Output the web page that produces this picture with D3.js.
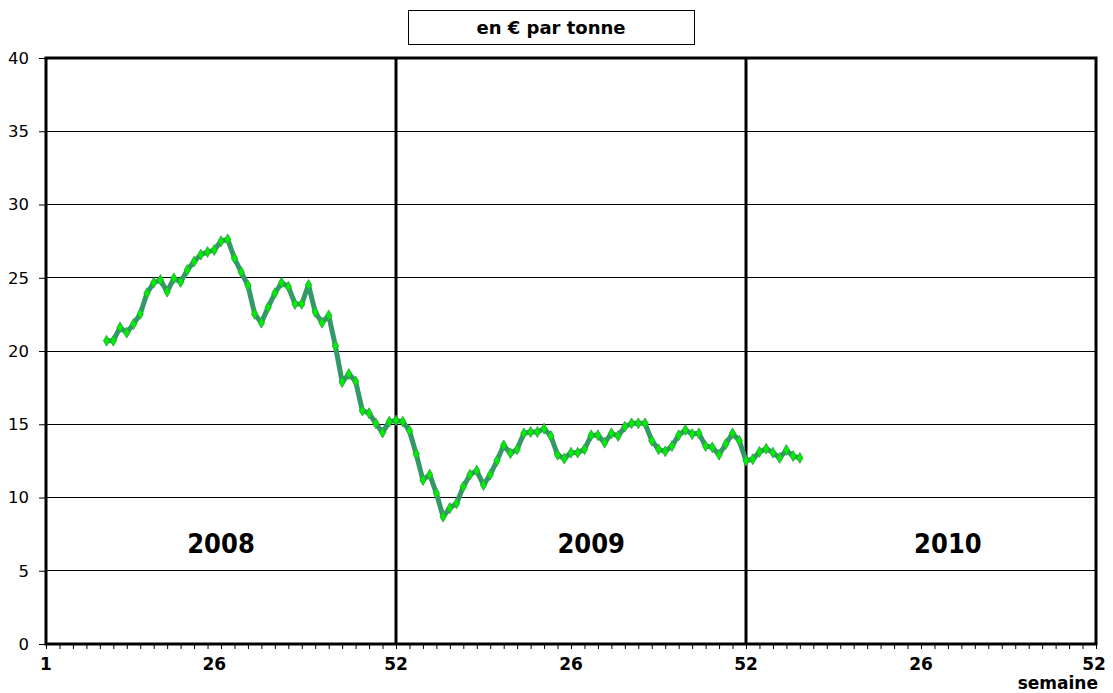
<!DOCTYPE html>
<html><head><meta charset="utf-8">
<script src="https://cdn.jsdelivr.net/npm/d3@7"></script>
<style>body{margin:0;background:#fff}svg{display:block}</style>
</head><body>
<svg id="c" width="1113" height="693"></svg>
<script>
// ---- data ----
const unitLabel = "en € par tonne";
const xAxisTitle = "semaine";
const years = ["2008", "2009", "2010"];
const weekTickLabels = ["1", "26", "52", "26", "52", "26", "52"];
const weekTickIndex = [0, 25, 52, 78, 104, 130, 156];
const yearBoundaryIndex = [52, 104];
const yearLabelIndex = [26, 81, 134];
const yTicks = [0, 5, 10, 15, 20, 25, 30, 35, 40];
const firstPointIndex = 9;
const prices = [
  20.70, 20.70, 21.61, 21.25, 21.84, 22.53, 23.94, 24.66, 24.85, 24.05,
  24.96, 24.71, 25.53, 26.10, 26.58, 26.76, 26.89, 27.49, 27.62, 26.33,
  25.39, 24.48, 22.53, 21.93, 22.98, 23.94, 24.66, 24.39, 23.21, 23.21,
  24.51, 22.66, 21.93, 22.43, 20.34, 17.88, 18.43, 17.93, 15.93, 15.75,
  15.06, 14.43, 15.18, 15.25, 15.18, 14.56, 12.97, 11.19, 11.56, 10.29,
  8.69, 9.28, 9.60, 10.74, 11.56, 11.83, 10.85, 11.56, 12.51, 13.56,
  13.02, 13.29, 14.38, 14.47, 14.47, 14.70, 14.20, 12.92, 12.65, 13.06,
  13.06, 13.29, 14.25, 14.25, 13.74, 14.38, 14.20, 14.83, 15.06, 15.06,
  15.06, 13.88, 13.29, 13.15, 13.51, 14.25, 14.61, 14.33, 14.38, 13.51,
  13.42, 12.92, 13.65, 14.38, 13.88, 12.51, 12.61, 13.11, 13.33, 13.06,
  12.70, 13.24, 12.83, 12.70
];

// ---- chart ----
const svg = d3.select("#c");
const L = 46, R = 1096, T = 58, B = 644;
const x = d3.scaleLinear().domain([0, 156]).range([L, R]);
const y = d3.scaleLinear().domain([0, 40]).range([B, T]);
const font = "'DejaVu Sans', Verdana, sans-serif";
const condFont = "'DejaVu Sans Condensed', 'DejaVu Sans', sans-serif";

// grid lines
svg.append("g").selectAll("line").data(yTicks.filter(v => v > 0 && v < 40)).join("line")
  .attr("x1", L).attr("x2", R).attr("y1", d => y(d)).attr("y2", d => y(d))
  .attr("stroke", "#000").attr("stroke-width", 1).attr("shape-rendering", "crispEdges");

// year boundaries
svg.append("g").selectAll("line").data(yearBoundaryIndex).join("line")
  .attr("x1", d => x(d)).attr("x2", d => x(d)).attr("y1", T).attr("y2", B)
  .attr("stroke", "#000").attr("stroke-width", 3);

// frame
svg.append("rect").attr("x", L).attr("y", T).attr("width", R - L).attr("height", B - T)
  .attr("fill", "none").attr("stroke", "#000").attr("stroke-width", 3);

// y axis
const yAxis = d3.axisLeft(y).tickValues(yTicks).tickSize(7).tickPadding(10);
const gy = svg.append("g").attr("transform", `translate(${L},0)`).call(yAxis);
gy.select(".domain").remove();
gy.selectAll("line").attr("stroke", "#000");
gy.selectAll("text").attr("font-family", font).attr("font-size", 16.5).attr("fill", "#000");

// x axis minor ticks (every two weeks)
const xAxis = d3.axisBottom(x).tickValues(d3.range(0, 157, 2)).tickSize(5).tickFormat("");
const gx = svg.append("g").attr("transform", `translate(0,${B})`).call(xAxis);
gx.select(".domain").remove();
gx.selectAll("line").attr("stroke", "#000").attr("stroke-width", 1);

// x labels
svg.append("g").selectAll("text").data(weekTickLabels).join("text")
  .attr("x", (d, i) => x(weekTickIndex[i])).attr("y", 670)
  .attr("text-anchor", "middle")
  .attr("dx", (d, i) => i === weekTickLabels.length - 1 ? -2 : 0)
  .attr("font-family", font).attr("font-weight", "bold").attr("font-size", 17)
  .text(d => d);
svg.append("text").attr("x", 1098).attr("y", 689).attr("text-anchor", "end")
  .attr("font-family", font).attr("font-weight", "bold").attr("font-size", 17).text(xAxisTitle);

// year labels
svg.append("g").selectAll("text").data(years).join("text")
  .attr("x", (d, i) => x(yearLabelIndex[i])).attr("y", 553).attr("text-anchor", "middle")
  .attr("font-family", condFont).attr("font-weight", "bold").attr("font-size", 27).text(d => d);

// unit box
svg.append("rect").attr("x", 408.5).attr("y", 10.5).attr("width", 286).attr("height", 34)
  .attr("fill", "#fff").attr("stroke", "#000").attr("stroke-width", 1);
svg.append("text").attr("x", 551).attr("y", 34).attr("text-anchor", "middle")
  .attr("font-family", font).attr("font-weight", "bold").attr("font-size", 18).text(unitLabel);

// series
const pts = prices.map((v, k) => [firstPointIndex + k, v]);
svg.append("path").datum(pts)
  .attr("d", d3.line().x(d => x(d[0])).y(d => y(d[1])))
  .attr("fill", "none").attr("stroke", "#339966").attr("stroke-width", 5)
  .attr("stroke-linejoin", "round");
const sym = d3.symbol().type(d3.symbolDiamond).size(34);
svg.append("g").selectAll("path").data(pts).join("path")
  .attr("transform", d => `translate(${x(d[0])},${y(d[1])})`)
  .attr("d", sym).attr("fill", "#00ee00").attr("stroke", "#2e9a4a").attr("stroke-width", 0.8);
</script>
</body></html>
